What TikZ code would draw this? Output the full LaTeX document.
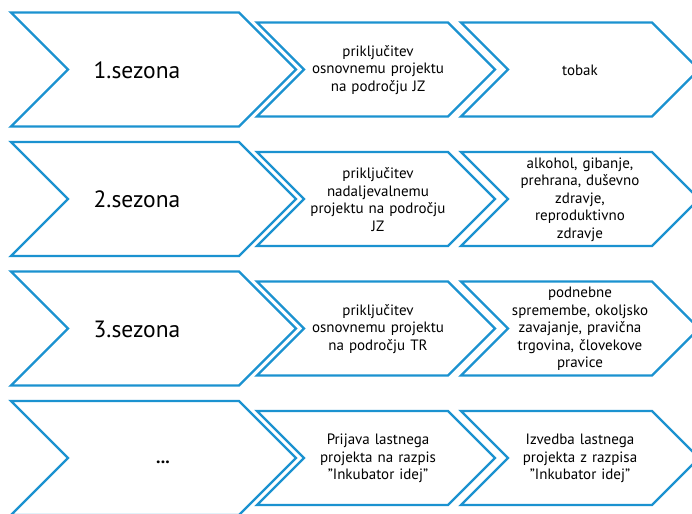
\documentclass[tikz,border=0pt]{standalone}
\usepackage{fontspec}
\setmainfont{PT Sans}
\definecolor{chevblue}{HTML}{1B92D0}
\tikzset{
  chev/.style={draw=chevblue, line width=2.4pt, fill=white, line join=miter},
  bigtext/.style={font=\fontsize{23.5}{28}\selectfont, text=black},
  smalltext/.style={font=\fontsize{15}{17.5}\selectfont, text=black, align=center, text width=150pt},
}
\begin{document}
\begin{tikzpicture}[x=1pt,y=-1pt]
\useasboundingbox (0,0) rectangle (692,513);
\begin{scope}
\clip (0,0) rectangle (692,513);
\foreach \r in {0,1,2,3}{
  \pgfmathsetmacro{\T}{12.5+129.5*\r}
  \draw[chev] (11,\T) -- (239,\T) -- (296,\T+57) -- (239,\T+114) -- (11,\T+114) -- (68,\T+57) -- cycle;
  \draw[chev] (257,\T+10) -- (448,\T+10) -- (495,\T+57) -- (448,\T+104) -- (257,\T+104) -- (304,\T+57) -- cycle;
  \draw[chev] (461,\T+10) -- (652,\T+10) -- (699,\T+57) -- (652,\T+104) -- (461,\T+104) -- (508,\T+57) -- cycle;
}
\end{scope}
% row 1
\node[bigtext] (s1) at (137,70) {1.sezona};
\node[smalltext] (a1) at (378,70) {priključitev\\osnovnemu projektu\\na področju JZ};
\node[smalltext] (b1) at (580,70) {tobak};
% row 2
\node[bigtext] (s2) at (137,199.5) {2.sezona};
\node[smalltext] (a2) at (378,199.5) {priključitev\\nadaljevalnemu\\projektu na področju\\JZ};
\node[smalltext] (b2) at (580,199.5) {alkohol, gibanje,\\prehrana, duševno\\zdravje,\\reproduktivno\\zdravje};
% row 3
\node[bigtext] (s3) at (137,329) {3.sezona};
\node[smalltext] (a3) at (378,329) {priključitev\\osnovnemu projektu\\na področju TR};
\node[smalltext] (b3) at (580,329) {podnebne\\spremembe, okoljsko\\zavajanje, pravična\\trgovina, človekove\\pravice};
% row 4
\node[font=\fontsize{18}{20}\selectfont\bfseries] (s4) at (163,462) {...};
\node[smalltext] (a4) at (378,458.5) {Prijava lastnega\\projekta na razpis\\"Inkubator idej"};
\node[smalltext] (b4) at (580,458.5) {Izvedba lastnega\\projekta z razpisa\\"Inkubator idej"};
\end{tikzpicture}
\end{document}
